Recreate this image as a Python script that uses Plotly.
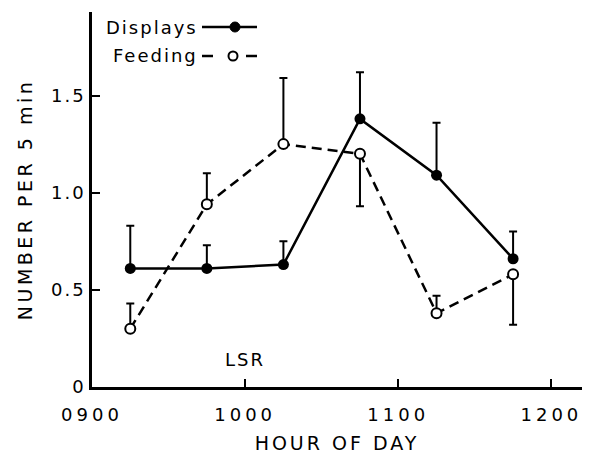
import plotly.graph_objects as go

# Data (hour of day as decimal hours; points at half-hour midpoints)
hours = [9.25, 9.75, 10.25, 10.75, 11.25, 11.75]
displays = [0.61, 0.61, 0.63, 1.38, 1.09, 0.66]
displays_err_up = [0.22, 0.12, 0.12, 0.24, 0.27, 0.14]
feeding = [0.30, 0.94, 1.25, 1.20, 0.38, 0.58]
feeding_err_up = [0.13, 0.16, 0.34, 0.0, 0.09, 0.0]
feeding_err_down = [0.0, 0.0, 0.0, 0.27, 0.0, 0.26]
x_tickvals = [9, 10, 11, 12]
x_ticktext = ["0900", "1000", "1100", "1200"]
y_tickvals = [0, 0.5, 1.0, 1.5]
y_ticktext = ["0", "0.5", "1.0", "1.5"]

FONT = "DejaVu Sans"


def spaced(t, px):
    return '<span style="letter-spacing:%gpx">%s</span>' % (px, t)


fig = go.Figure()

fig.add_trace(go.Scatter(
    x=hours, y=feeding, mode="lines+markers", name="Feeding",
    line=dict(color="black", width=2.5, dash="10px,6px"),
    marker=dict(symbol="circle", size=10, color="white",
                line=dict(color="black", width=2)),
    error_y=dict(type="data", symmetric=False, array=feeding_err_up,
                 arrayminus=feeding_err_down, color="black",
                 thickness=2, width=4),
))
fig.add_trace(go.Scatter(
    x=hours, y=displays, mode="lines+markers", name="Displays",
    line=dict(color="black", width=2.5),
    marker=dict(symbol="circle", size=11, color="black"),
    error_y=dict(type="data", symmetric=False, array=displays_err_up,
                 arrayminus=[0] * len(hours), color="black",
                 thickness=2, width=4),
))

# Custom legend (text left, symbol right); coordinates relative to plot area
def px_x(p):
    return (p - 92) / 490.0


def px_y(p):
    return (387 - p) / 375.0


shapes = [
    dict(type="line", xref="paper", yref="paper", x0=px_x(202), x1=px_x(257),
         y0=px_y(27), y1=px_y(27), line=dict(color="black", width=2.5)),
    dict(type="circle", xref="paper", yref="paper", xsizemode="pixel",
         ysizemode="pixel", xanchor=px_x(235), yanchor=px_y(27),
         x0=-5, x1=5, y0=-5, y1=5, fillcolor="black",
         line=dict(color="black", width=1)),
    dict(type="line", xref="paper", yref="paper", x0=px_x(202), x1=px_x(213),
         y0=px_y(56), y1=px_y(56), line=dict(color="black", width=2.5)),
    dict(type="line", xref="paper", yref="paper", x0=px_x(246), x1=px_x(257),
         y0=px_y(56), y1=px_y(56), line=dict(color="black", width=2.5)),
    dict(type="circle", xref="paper", yref="paper", xsizemode="pixel",
         ysizemode="pixel", xanchor=px_x(233), yanchor=px_y(56),
         x0=-4.5, x1=4.5, y0=-4.5, y1=4.5, fillcolor="white",
         line=dict(color="black", width=2)),
]

annotations = [
    dict(text=spaced("Displays", 2), xref="paper", yref="paper", x=px_x(200), y=px_y(27),
         xanchor="right", yanchor="middle", showarrow=False,
         font=dict(family=FONT, size=18, color="black")),
    dict(text=spaced("Feeding", 2), xref="paper", yref="paper", x=px_x(200), y=px_y(56),
         xanchor="right", yanchor="middle", showarrow=False,
         font=dict(family=FONT, size=18, color="black")),
    dict(text=spaced("LSR", 2), x=10.0, y=0.14, xref="x", yref="y", showarrow=False,
         font=dict(family=FONT, size=18, color="black")),
]

# page body has an 8px margin, so the figure is shifted by 8px
fig.update_layout(
    width=587, height=448,
    margin=dict(l=84, r=13, t=4, b=69),
    plot_bgcolor="white", paper_bgcolor="white",
    showlegend=False,
    shapes=shapes, annotations=annotations,
    font=dict(family=FONT, color="black", size=18),
)
fig.update_xaxes(
    range=[9, 12.2], tickvals=x_tickvals,
    ticktext=[spaced(t, 4) for t in x_ticktext],
    showline=True, linecolor="black", linewidth=2.5, showgrid=False,
    zeroline=False, ticks="inside", ticklen=8, tickwidth=2, tickcolor="black",
    tickfont=dict(family=FONT, size=18), ticklabelstandoff=10,
    automargin=False,
    title=dict(text=spaced("HOUR OF DAY", 3), font=dict(family=FONT, size=19), standoff=13),
)
fig.update_yaxes(
    range=[0, 1.93], tickvals=y_tickvals,
    ticktext=[spaced(t, 2) for t in y_ticktext],
    showline=True, linecolor="black", linewidth=2.5, showgrid=False,
    zeroline=False, ticks="inside", ticklen=8, tickwidth=2, tickcolor="black",
    tickfont=dict(family=FONT, size=18), ticklabelstandoff=0,
    automargin=False,
    title=dict(text=spaced("NUMBER PER 5 min", 3.5), font=dict(family=FONT, size=19), standoff=14),
)

fig.write_html("out.html")
